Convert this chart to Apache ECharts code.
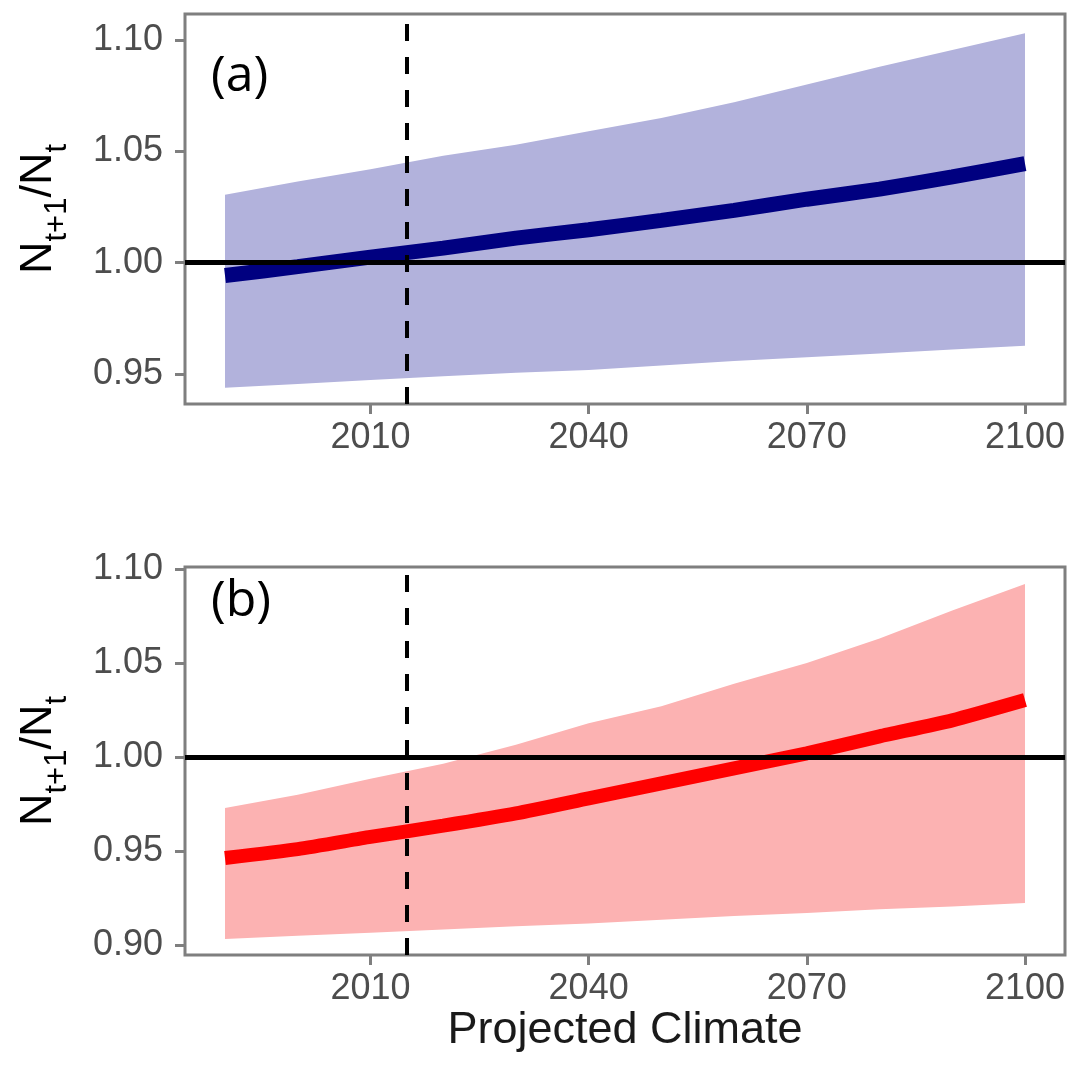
<!DOCTYPE html>
<html>
<head>
<meta charset="utf-8">
<script src="https://cdn.jsdelivr.net/npm/echarts@6/dist/echarts.min.js"></script>
<style>
html,body{margin:0;padding:0;background:#fff;}
#main{width:1071px;height:1071px;}
</style>
</head>
<body>
<div id="main"></div>
<script>
const years = [1990, 2000, 2010, 2020, 2030, 2040, 2050, 2060, 2070, 2080, 2090, 2100];
const aUpper = [1.0305, 1.0365, 1.042, 1.048, 1.053, 1.059, 1.065, 1.072, 1.080, 1.088, 1.0955, 1.103];
const aMean  = [0.9942, 0.9982, 1.0025, 1.0065, 1.011, 1.0148, 1.019, 1.0235, 1.0285, 1.033, 1.0385, 1.0445];
const aLower = [0.9438, 0.9455, 0.9473, 0.949, 0.9505, 0.9518, 0.9538, 0.9558, 0.9575, 0.9592, 0.961, 0.9627];
const bUpper = [0.9729, 0.980, 0.9885, 0.9965, 1.0065, 1.018, 1.027, 1.039, 1.050, 1.063, 1.078, 1.092];
const bMean  = [0.9463, 0.951, 0.9575, 0.9635, 0.970, 0.978, 0.986, 0.994, 1.002, 1.011, 1.0195, 1.0303];
const bLower = [0.9032, 0.905, 0.9065, 0.9083, 0.910, 0.9115, 0.9135, 0.9155, 0.917, 0.919, 0.9205, 0.9223];
const xTicks = [2010, 2040, 2070, 2100];
const aYTicks = [0.95, 1.00, 1.05, 1.10];
const bYTicks = [0.90, 0.95, 1.00, 1.05, 1.10];
const refValue = 1.0;
const currentYear = 2015;
const panelLabels = ['(a)', '(b)'];
const xTitle = 'Projected Climate';

const FONT = 'Liberation Sans, Arial, sans-serif';
const pairs = (ys) => years.map((y, i) => [y, ys[i]]);

function xAxisCfg(idx, withName) {
  return {
    type: 'value', gridIndex: idx, min: 1984.5, max: 2105.5,
    axisLine: { show: false },
    splitLine: { show: false },
    axisTick: { show: true, customValues: xTicks, length: 10, lineStyle: { color: '#7f7f7f', width: 3 } },
    axisLabel: { customValues: xTicks, color: '#4d4d4d', fontSize: 36, fontFamily: FONT, margin: 16,
      formatter: v => String(v) },
    name: withName ? xTitle : '',
    nameLocation: 'middle', nameGap: 50,
    nameTextStyle: { color: '#1a1a1a', fontSize: 45, fontFamily: FONT }
  };
}
function yAxisCfg(idx, min, max, ticks) {
  return {
    type: 'value', gridIndex: idx, min: min, max: max,
    axisLine: { show: false },
    splitLine: { show: false },
    axisTick: { show: true, customValues: ticks, length: 10, lineStyle: { color: '#7f7f7f', width: 3 } },
    axisLabel: { customValues: ticks, color: '#4d4d4d', fontSize: 36, fontFamily: FONT, margin: 22,
      formatter: v => v.toFixed(2) },
    name: '{n|N}{s|t+1}{n|/N}{s|t}',
    nameLocation: 'middle', nameGap: 121,
    nameTextStyle: {
      rich: {
        n: { fontSize: 45, color: '#000', fontFamily: FONT, lineHeight: 48, verticalAlign: 'top' },
        s: { fontSize: 31, color: '#000', fontFamily: FONT, lineHeight: 30, verticalAlign: 'top', padding: [26, 0, 0, 0] }
      }
    }
  };
}
function panelSeries(idx, up, mean, lo, bandColor, lineColor, lineW) {
  return [
    { type: 'custom', xAxisIndex: idx, yAxisIndex: idx, silent: true, z: 1,
      data: years.map((y, i) => [y, up[i], lo[i]]),
      encode: { x: 0, y: [1, 2] },
      renderItem: function (params, api) {
        if (params.dataIndex !== 0) return null;
        const pts = [];
        for (let i = 0; i < years.length; i++) pts.push(api.coord([years[i], up[i]]));
        for (let i = years.length - 1; i >= 0; i--) pts.push(api.coord([years[i], lo[i]]));
        return { type: 'polygon', shape: { points: pts }, style: { fill: bandColor, stroke: null } };
      } },
    { type: 'line', xAxisIndex: idx, yAxisIndex: idx, data: pairs(mean), smooth: 0.2,
      showSymbol: false, symbol: 'none', lineStyle: { color: lineColor, width: lineW, cap: 'butt' }, z: 2 },
    { type: 'line', xAxisIndex: idx, yAxisIndex: idx, data: [], z: 3,
      markLine: {
        silent: true, symbol: 'none', z: 3, animation: false,
        label: { show: false },
        data: [
          { yAxis: refValue, lineStyle: { color: '#000', width: 5, type: 'solid' } },
          { xAxis: currentYear, lineStyle: { color: '#000', width: 4, type: [17, 16] } }
        ]
      } }
  ];
}

const chart = echarts.init(document.getElementById('main'), null, { renderer: 'canvas' });
chart.setOption({
  animation: false,
  backgroundColor: '#fff',
  grid: [
    { left: 185, top: 14, width: 880, height: 390, show: true, borderColor: '#7f7f7f', borderWidth: 3, backgroundColor: 'transparent' },
    { left: 185, top: 567, width: 880, height: 388, show: true, borderColor: '#7f7f7f', borderWidth: 3, backgroundColor: 'transparent' }
  ],
  xAxis: [xAxisCfg(0, false), xAxisCfg(1, true)],
  yAxis: [yAxisCfg(0, 0.9365, 1.1117, aYTicks), yAxisCfg(1, 0.8947, 1.1011, bYTicks)],
  series: [].concat(
    panelSeries(0, aUpper, aMean, aLower, '#b2b2dc', '#000080', 15),
    panelSeries(1, bUpper, bMean, bLower, '#fcb2b2', '#ff0000', 14)
  ),
  graphic: [
    { type: 'text', left: 211, top: 52, z: 10,
      style: { text: panelLabels[0], fontSize: 50, fontFamily: 'Open Sans, Noto Sans, sans-serif', fill: '#000' } },
    { type: 'text', left: 211, top: 577, z: 10,
      style: { text: panelLabels[1], fontSize: 50, fontFamily: 'Open Sans, Noto Sans, sans-serif', fill: '#000' } }
  ]
});
</script>
</body>
</html>
